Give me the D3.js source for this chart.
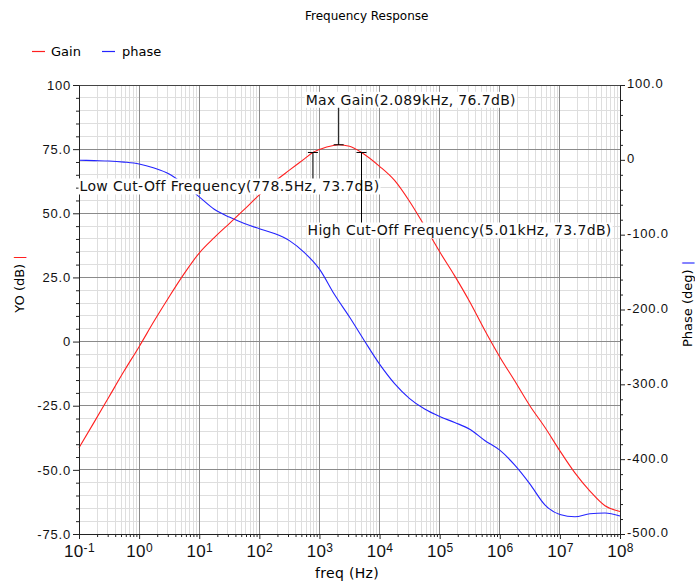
<!DOCTYPE html>
<html lang="en">
<head>
<meta charset="UTF-8">
<title>Frequency Response</title>
<script src="https://d3js.org/d3.v7.min.js"></script>
<style>
    body { margin: 0; background: #fff; }
    svg { font-family: "DejaVu Sans", sans-serif; display: block; }
    .grid-minor { stroke: #dedede; }
    .grid-major { stroke: #8a8a8a; }
    .axis path, .axis line { stroke: #222; }
    .axis text { font-size: 13px; fill: #111; letter-spacing: 0.8px; }
    .curve { fill: none; stroke-width: 1.1; }
    .marker line { stroke: #000; }
    .marker text { font-size: 14px; letter-spacing: 0.35px; fill: #111; }
</style>
</head>
<body>
<div id="chart"></div>
<script>
    // Gain curve: log10(freq) -> dB
    const gainExp = [-1, -0.75, -0.5, -0.25, 0, 0.25, 0.5, 0.75, 1, 1.25, 1.5, 1.75, 2, 2.25, 2.5, 2.75,
                     2.891, 3, 3.25, 3.32, 3.5, 3.7, 4, 4.25, 4.5, 4.75, 5, 5.25, 5.5, 5.75, 6, 6.25, 6.5,
                     6.75, 7, 7.25, 7.5, 7.75, 8];
    const gainDb = [-41.4, -31.5, -21.5, -11.5, -2, 8, 17.5, 26.5, 34.5, 40.5, 46, 51.5, 57.2, 62.3, 66.8, 71.2,
                    73.7, 74.9, 76.5, 76.7, 76.1, 73.7, 68.3, 62.8, 54.6, 45, 35, 25.6, 15.5, 4.4, -6, -15.4, -25,
                    -33.4, -42.6, -51.2, -58.3, -64, -66.2];

    // Phase curve: log10(freq) -> deg
    const phaseExp = [-1, -0.75, -0.5, -0.25, 0, 0.25, 0.5, 0.75, 1, 1.25, 1.5, 1.75, 2, 2.25, 2.5, 2.75,
                      3, 3.25, 3.5, 3.75, 4, 4.25, 4.5, 4.75, 5, 5.25, 5.5, 5.75, 6, 6.25, 6.5, 6.75,
                      7, 7.25, 7.5, 7.75, 8];
    const phaseDeg = [-0.5, -1, -1.5, -3, -5.5, -11, -19, -33, -49.5, -66, -76.5, -85, -92, -98.5, -108, -124,
                      -146, -180, -210, -242, -273, -299, -319, -333, -343, -351, -360, -375, -388, -408, -433, -461,
                      -474, -477, -473, -472, -476];

    // Markers
    const markerFreq = [2089, 778.5, 5010];
    const markerDb = [76.7, 73.7, 73.7];
    const markerText = ["Max Gain(2.089kHz, 76.7dB)", "Low Cut-Off Frequency(778.5Hz, 73.7dB)",
                        "High Cut-Off Frequency(5.01kHz, 73.7dB)"];

    // Axis ticks
    const xDecades = [-1, 0, 1, 2, 3, 4, 5, 6, 7, 8];
    const yLeftTicks = [100, 75, 50, 25, 0, -25, -50, -75];
    const yRightTicks = [100, 0, -100, -200, -300, -400, -500];

    const W = 695, H = 584;
    const plot = {left: 79, right: 620, top: 85, bottom: 534};
    // label offsets from marker point
    const markerLayout = [{dx: -33, dy: -40}, {dx: -233.4, dy: 39}, {dx: -54, dy: 83}];
    const RED = '#ff1f1f', BLUE = '#2424ff';

    const svg = d3.select('#chart').append('svg')
        .attr('width', W)
        .attr('height', H);

    const x = d3.scaleLog().domain([1e-1, 1e8]).range([plot.left, plot.right]);
    const yL = d3.scaleLinear().domain([-75, 100]).range([plot.bottom, plot.top]);
    const yR = d3.scaleLinear().domain([-500, 100]).range([plot.bottom, plot.top]);

    const xMinor = [];
    xDecades.slice(0, -1).forEach(e => {
        for (let k = 2; k <= 9; k++) xMinor.push(k * Math.pow(10, e));
    });
    const yMinor = d3.range(-75, 100, 5).filter(v => v % 25 !== 0);
    const yRMinor = d3.range(-500, 100, 20).filter(v => v % 100 !== 0);

    // grid
    const grid = svg.append('g').attr('shape-rendering', 'crispEdges');
    grid.selectAll('.vmin').data(xMinor).enter().append('line')
        .attr('class', 'grid-minor')
        .attr('x1', d => x(d)).attr('x2', d => x(d))
        .attr('y1', plot.top).attr('y2', plot.bottom);
    grid.selectAll('.hmin').data(yMinor).enter().append('line')
        .attr('class', 'grid-minor')
        .attr('x1', plot.left).attr('x2', plot.right)
        .attr('y1', d => yL(d)).attr('y2', d => yL(d));
    grid.selectAll('.vmaj').data(xDecades).enter().append('line')
        .attr('class', 'grid-major')
        .attr('x1', d => x(Math.pow(10, d))).attr('x2', d => x(Math.pow(10, d)))
        .attr('y1', plot.top).attr('y2', plot.bottom);
    grid.selectAll('.hmaj').data(yLeftTicks).enter().append('line')
        .attr('class', 'grid-major')
        .attr('x1', plot.left).attr('x2', plot.right)
        .attr('y1', d => yL(d)).attr('y2', d => yL(d));

    // top border
    svg.append('line')
        .attr('x1', plot.left).attr('x2', plot.right)
        .attr('y1', plot.top).attr('y2', plot.top)
        .attr('stroke', '#444').attr('shape-rendering', 'crispEdges');

    // curves
    const gainLine = d3.line()
        .x((d, i) => x(Math.pow(10, gainExp[i])))
        .y(d => yL(d))
        .curve(d3.curveMonotoneX);
    const phaseLine = d3.line()
        .x((d, i) => x(Math.pow(10, phaseExp[i])))
        .y(d => yR(d))
        .curve(d3.curveMonotoneX);

    svg.append('path').datum(phaseDeg)
        .attr('class', 'curve').style('stroke', BLUE)
        .attr('d', phaseLine);
    svg.append('path').datum(gainDb)
        .attr('class', 'curve').style('stroke', RED)
        .attr('d', gainLine);

    // axes
    const fmtL = d => d === 0 ? '0' : (d === 100 ? '100' : d.toFixed(1));
    const fmtR = d => d === 0 ? '0' : d.toFixed(1);

    svg.append('g').attr('class', 'axis')
        .attr('transform', `translate(${plot.left},0)`)
        .call(d3.axisLeft(yL).tickValues(yMinor).tickSize(3).tickSizeOuter(0).tickFormat(''))
        .select('.domain').remove();
    svg.append('g').attr('class', 'axis')
        .attr('transform', `translate(${plot.left},0)`)
        .call(d3.axisLeft(yL).tickValues(yLeftTicks).tickSize(6).tickSizeOuter(0).tickPadding(2).tickFormat(fmtL));

    svg.append('g').attr('class', 'axis')
        .attr('transform', `translate(${plot.right},0)`)
        .call(d3.axisRight(yR).tickValues(yRMinor).tickSize(3).tickSizeOuter(0).tickFormat(''))
        .select('.domain').remove();
    svg.append('g').attr('class', 'axis')
        .attr('transform', `translate(${plot.right},0)`)
        .call(d3.axisRight(yR).tickValues(yRightTicks).tickSize(5).tickSizeOuter(0).tickPadding(2).tickFormat(fmtR))
        .selectAll('text').attr('dy', '0.22em');

    svg.append('g').attr('class', 'axis')
        .attr('transform', `translate(0,${plot.bottom})`)
        .call(d3.axisBottom(x).tickValues(xMinor).tickSize(3).tickSizeOuter(0).tickFormat(''))
        .select('.domain').remove();
    const xAxis = svg.append('g').attr('class', 'axis')
        .attr('transform', `translate(0,${plot.bottom})`)
        .call(d3.axisBottom(x).tickValues(xDecades.map(e => Math.pow(10, e)))
            .tickSize(5).tickSizeOuter(0).tickFormat(''));
    xAxis.selectAll('.tick').append('text')
        .attr('y', 23)
        .attr('text-anchor', 'middle')
        .style('letter-spacing', '0.3px')
        .each(function(d, i) {
            const t = d3.select(this);
            t.append('tspan').style('font-size', '17px').text('10');
            t.append('tspan').style('font-size', '12px').attr('dy', -5.5).text(String(xDecades[i]));
        });

    // markers
    const mk = svg.append('g').attr('class', 'marker');
    markerFreq.forEach((f, i) => {
        const mx = x(f), my = yL(markerDb[i]);
        const lay = markerLayout[i];
        const g = mk.append('g');
        const bg = g.append('rect').attr('fill', '#fff');
        const txt = g.append('text')
            .attr('x', mx + lay.dx)
            .attr('y', my + lay.dy)
            .text(markerText[i]);
        const bb = txt.node().getBBox();
        bg.attr('x', bb.x - 1).attr('y', bb.y).attr('width', bb.width + 2).attr('height', bb.height);
        const yEnd = lay.dy < 0 ? bb.y + bb.height : bb.y;
        g.append('line').attr('x1', mx).attr('x2', mx).attr('y1', my).attr('y2', yEnd);
        g.append('line').attr('x1', mx - 5).attr('x2', mx + 5).attr('y1', my).attr('y2', my);
    });

    // title
    svg.append('text')
        .attr('x', 305).attr('y', 20)
        .style('font-size', '12px')
        .text('Frequency Response');

    // legend
    const legend = svg.append('g').style('font-size', '13px');
    legend.append('line').attr('x1', 32).attr('x2', 45).attr('y1', 51.5).attr('y2', 51.5)
        .style('stroke', RED).style('stroke-width', 1.2);
    legend.append('text').attr('x', 51).attr('y', 56).text('Gain');
    legend.append('line').attr('x1', 102).attr('x2', 115).attr('y1', 51.5).attr('y2', 51.5)
        .style('stroke', BLUE).style('stroke-width', 1.2);
    legend.append('text').attr('x', 122).attr('y', 56).text('phase');

    // axis titles
    svg.append('text')
        .attr('x', 347).attr('y', 578)
        .attr('text-anchor', 'middle')
        .style('font-size', '14px').style('letter-spacing', '0.3px')
        .text('freq (Hz)');

    const yt = svg.append('text')
        .attr('transform', 'translate(24,284) rotate(-90)')
        .attr('text-anchor', 'middle')
        .style('font-size', '13px');
    yt.append('tspan').text('YO (dB) ');
    yt.append('tspan').style('fill', RED).text('|');

    const yrt = svg.append('text')
        .attr('transform', 'translate(692,304) rotate(-90)')
        .attr('text-anchor', 'middle')
        .style('font-size', '13px');
    yrt.append('tspan').text('Phase (deg) ');
    yrt.append('tspan').style('fill', BLUE).text('|');
</script>
</body>
</html>
